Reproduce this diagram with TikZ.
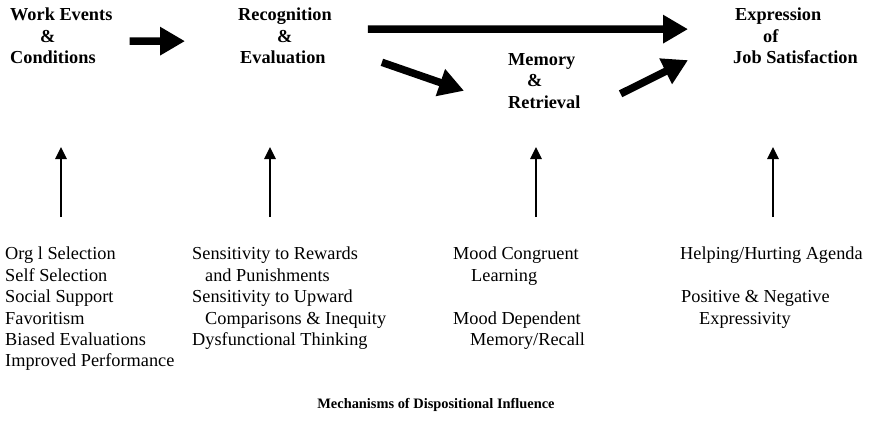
\documentclass[tikz,border=0pt]{standalone}
\usepackage{fontspec}
\setmainfont{Liberation Serif}
\usepackage{tikz}
\usetikzlibrary{arrows.meta}

\begin{document}
\begin{tikzpicture}[x=1pt, y=-1pt,
    stage/.style={anchor=north west, inner sep=0pt, align=left,
      font=\fontsize{18.3}{21.5}\selectfont\bfseries},
    mech/.style={anchor=north west, inner sep=0pt, align=left,
      font=\fontsize{18.3}{21.4}\selectfont},
    flow/.style={line width=7.5pt, -{Triangle[length=25pt, width=27pt]}},
    mechline/.style={line width=1.3pt, -{Triangle[length=12pt, width=11.5pt]}}]
    \useasboundingbox (0,0) rectangle (869,436);

    % stages
    \node[stage] (work) at (10,8) {Work Events\\\hspace*{30pt}\&\\Conditions};
    \node[stage] (recog) at (238,8) {Recognition\\\hspace*{39pt}\&\\\hspace*{2pt}Evaluation};
    \node[stage] (memory) at (508,53) {Memory\\\hspace*{19pt}\&\\Retrieval};
    \node[stage] (expr) at (733,8) {\hspace*{2pt}Expression\\\hspace*{30pt}of\\Job Satisfaction};

    \draw[flow, shorten <=17pt, shorten >=53pt] ([yshift=-5pt]work.east) -- ([yshift=-5pt]recog.west);
    \draw[flow, shorten <=36pt, shorten >=45pt] ([yshift=7pt]recog.east) -- ([yshift=7pt]expr.west);
    \draw[flow] ([shift={(50,-2)}]recog.south east) -- ([shift={(-44,10)}]memory.west);
    \draw[flow] ([shift={(40,13)}]memory.east) -- ([shift={(-45,24)}]expr.west);

    % mechanisms
    \node[mech] (select) at (5,247) {Org l Selection\\Self Selection\\Social Support\\Favoritism\\Biased Evaluations\\Improved Performance};
    \node[mech] (sensitivity) at (192,247) {Sensitivity to Rewards\\\hspace*{13pt}and Punishments\\Sensitivity to Upward\\\hspace*{13pt}Comparisons \& Inequity\\Dysfunctional Thinking};
    \node[mech] (mood) at (453,247) {Mood Congruent\\\hspace*{18pt}Learning\\[21.4pt]Mood Dependent\\\hspace*{17pt}Memory/Recall};
    \node[mech] (agenda) at (680,247) {Helping/Hurting Agenda\\[21.4pt]\hspace*{1pt}Positive \& Negative\\\hspace*{19pt}Expressivity};

    \foreach \x/\n in {61/select, 270/sensitivity, 536/mood, 773/agenda} {
      \coordinate (\n-base) at (\x,217);
      \coordinate (\n-tip) at (\x,147);
      \draw[mechline] (\n-base) -- (\n-tip);
    }

    \node[font=\fontsize{14.4}{17}\selectfont\bfseries] (caption) at (436,405) {Mechanisms of Dispositional Influence};
\end{tikzpicture}
\end{document}
